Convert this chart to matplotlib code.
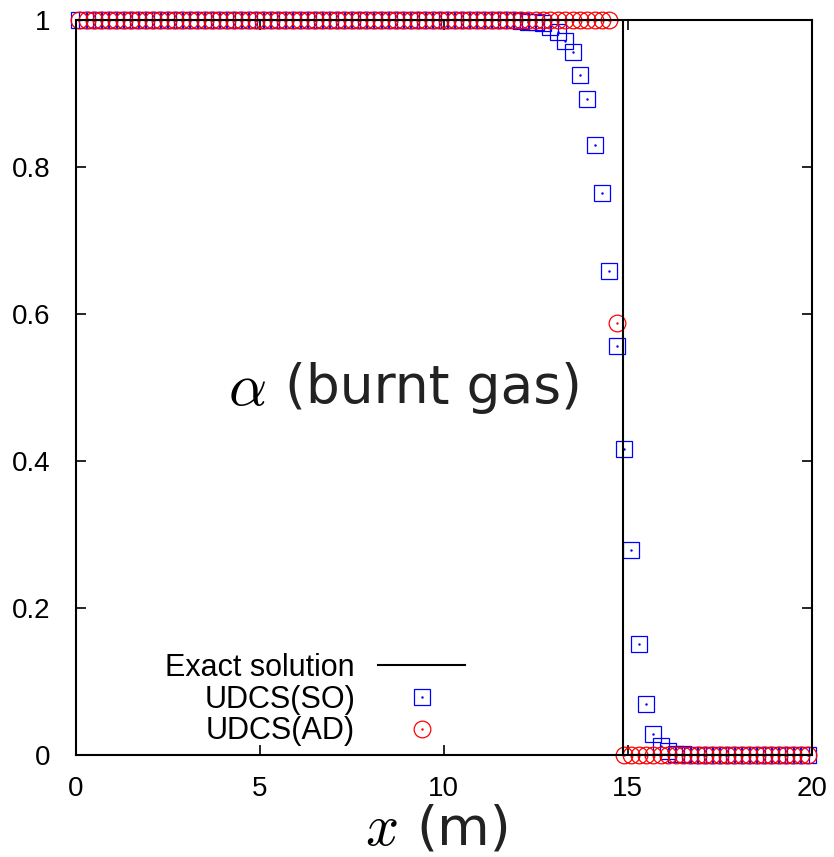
import numpy as np
import matplotlib
matplotlib.use('Agg')
import matplotlib.pyplot as plt

plt.rcParams['font.family'] = ['Liberation Sans', 'DejaVu Sans']
plt.rcParams['mathtext.fontset'] = 'cm'

# cell centres, dx = 0.2
x = np.arange(100) * 0.2 + 0.1

# UDCS(SO): values for cells 60..82 (x = 12.1 .. 16.5)
so_front = [0.999, 0.998, 0.997, 0.996, 0.991, 0.984, 0.972, 0.957,
            0.926, 0.893, 0.830, 0.765, 0.659, 0.556, 0.416, 0.279,
            0.151, 0.070, 0.029, 0.012, 0.005, 0.002, 0.001]
so = [1.0] * 60 + so_front + [0.0] * 17

# UDCS(AD): sharp front, one intermediate cell at x = 14.7
ad_front = [0.588]
ad = [1.0] * 73 + ad_front + [0.0] * 26

# exact solution: step at the flame front
x_front = 14.87
exact_x = [0, x_front, x_front, 20]
exact_y = [1, 1, 0, 0]

fig = plt.figure(figsize=(8.34, 8.57), dpi=100)
ax = fig.add_axes([0.0908, 0.119, 0.8825, 0.8575])

l_ex, = ax.plot(exact_x, exact_y, color='black', lw=1.5, zorder=3)
l_so, = ax.plot(x, so, ls='none', marker='s', ms=12, mfc='none', mec='#0000ff',
                mew=0.9, clip_on=False)
d_so, = ax.plot(x, so, ls='none', marker='.', ms=1.5, color='#0000ff', clip_on=False)
l_ad, = ax.plot(x, ad, ls='none', marker='o', ms=12, mfc='none', mec='#ff0000',
                mew=0.9, clip_on=False)
d_ad, = ax.plot(x, ad, ls='none', marker='.', ms=1.5, color='#ff0000', clip_on=False)

ax.set_xlim(0, 20)
ax.set_ylim(0, 1)
ax.set_xticks([0, 5, 10, 15, 20])
ax.set_xticklabels(['0', '5', '10', '15', '20'])
ax.set_yticks([0, 0.2, 0.4, 0.6, 0.8, 1])
ax.set_yticklabels(['0', '0.2', '0.4', '0.6', '0.8', '1'])
ax.tick_params(direction='in', length=7, width=1.2, labelsize=20,
               top=True, right=True)
ax.tick_params(axis='y', pad=18)
ax.tick_params(axis='x', pad=15)
for s in ax.spines.values():
    s.set_linewidth(1.5)

# x label: italic x plus sans "(m)"
fig.text(0.4376, 0.0145, r'$x$', fontsize=42, ha='left', va='baseline')
fig.text(0.4988, 0.0145, '(m)', fontsize=39, family='DejaVu Sans',
         ha='left', va='baseline', color='#222222')

# annotation
ax.text(4.14, 0.476, r'$\alpha$', fontsize=43, ha='left', va='baseline')
ax.text(5.69, 0.479, '(burnt gas)', fontsize=38.5, family='DejaVu Sans',
        ha='left', va='baseline', color='#222222')

leg = ax.legend([l_ex, (l_so, d_so), (l_ad, d_ad)],
                ['Exact solution', 'UDCS(SO)', 'UDCS(AD)'],
                loc='lower right', bbox_to_anchor=(0.529, 0.012),
                markerfirst=False, frameon=False, fontsize=22,
                handlelength=2.85, handletextpad=0.75, labelspacing=0.05,
                borderpad=0, borderaxespad=0)

fig.savefig('out.png', dpi=100)
